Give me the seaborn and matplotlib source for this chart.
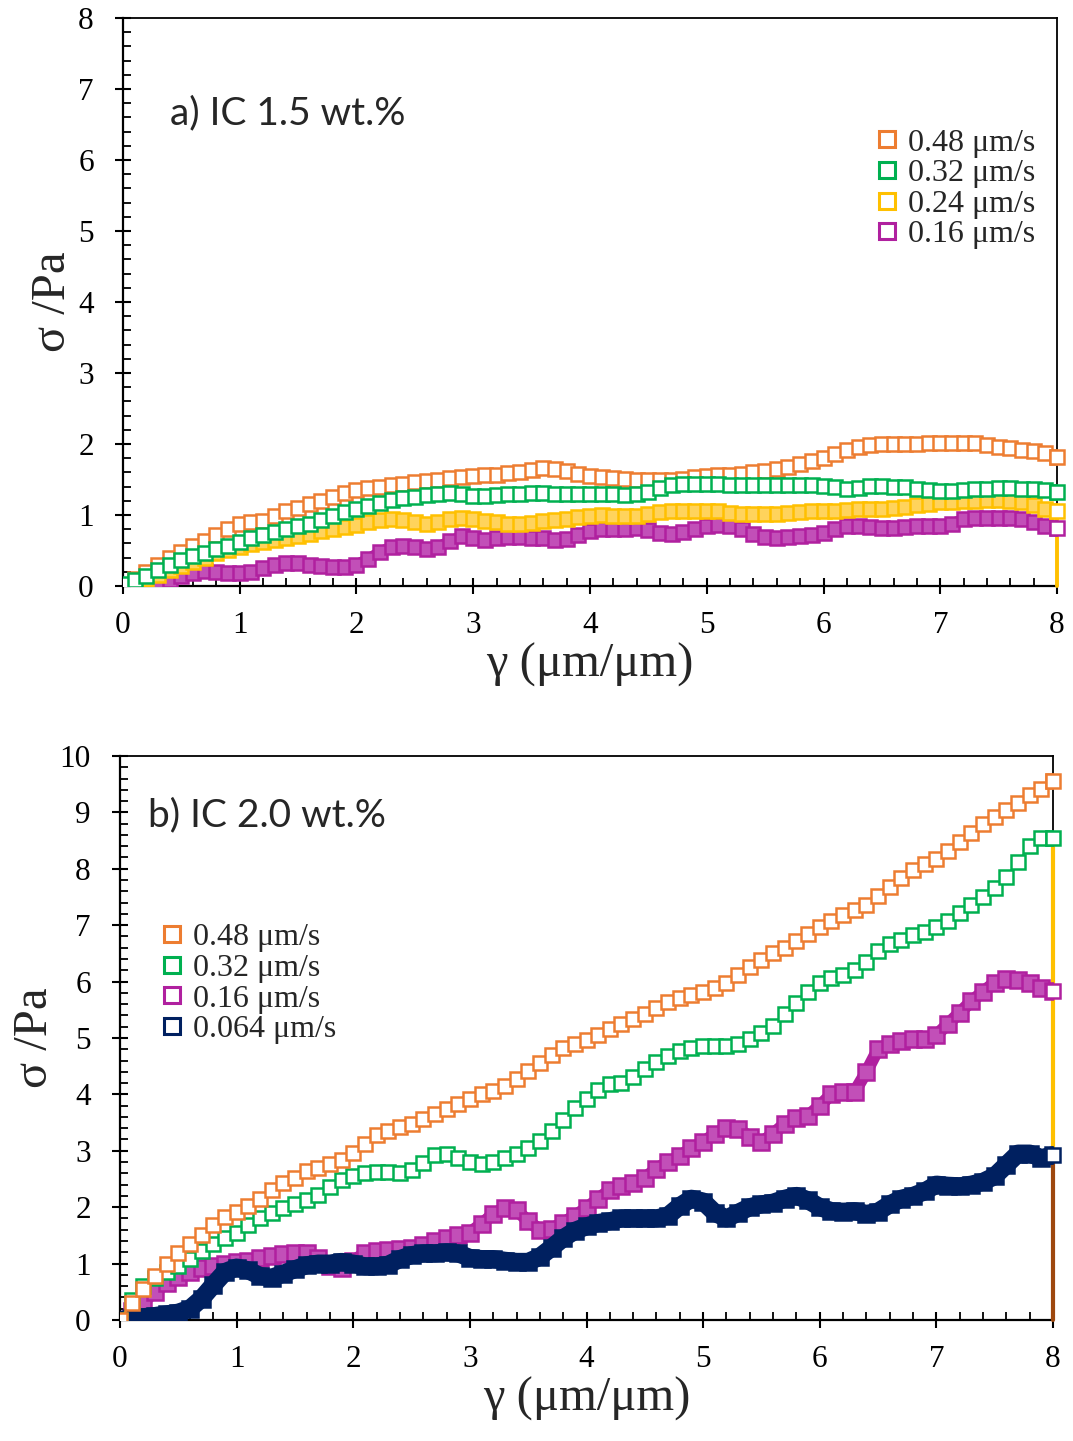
import numpy as np
import pandas as pd
import seaborn as sns
import matplotlib
matplotlib.use("Agg")
import matplotlib.pyplot as plt
from matplotlib.lines import Line2D
from matplotlib.ticker import MultipleLocator

# strain grid (μm/μm), sampled every 0.1
gamma = np.round(np.arange(0, 81) * 0.1, 1)

# ---- panel a) IC 1.5 wt.% : stress (Pa) per shear speed ----
a_048 = [0.00, 0.10, 0.20, 0.30, 0.40, 0.48, 0.56, 0.64, 0.72, 0.80,
         0.87, 0.90, 0.92, 0.98, 1.05, 1.10, 1.15, 1.20, 1.26, 1.31,
         1.35, 1.38, 1.40, 1.42, 1.44, 1.46, 1.48, 1.50, 1.52, 1.54,
         1.55, 1.56, 1.57, 1.59, 1.61, 1.63, 1.66, 1.65, 1.62, 1.58,
         1.55, 1.53, 1.52, 1.51, 1.50, 1.50, 1.50, 1.50, 1.51, 1.53,
         1.55, 1.56, 1.57, 1.58, 1.60, 1.62, 1.65, 1.68, 1.72, 1.76,
         1.80, 1.86, 1.92, 1.96, 1.98, 2.00, 2.00, 2.00, 2.00, 2.01,
         2.02, 2.02, 2.02, 2.01, 1.99, 1.96, 1.94, 1.92, 1.90, 1.87,
         1.82]
a_032 = [0.03, 0.08, 0.14, 0.22, 0.30, 0.37, 0.42, 0.47, 0.52, 0.57,
         0.62, 0.67, 0.72, 0.76, 0.80, 0.84, 0.88, 0.93, 0.98, 1.04,
         1.09, 1.13, 1.17, 1.21, 1.24, 1.26, 1.28, 1.30, 1.31, 1.29,
         1.27, 1.27, 1.28, 1.29, 1.30, 1.31, 1.31, 1.30, 1.30, 1.30,
         1.30, 1.30, 1.29, 1.28, 1.29, 1.33, 1.38, 1.42, 1.44, 1.44,
         1.44, 1.44, 1.43, 1.43, 1.43, 1.42, 1.42, 1.42, 1.42, 1.42,
         1.41, 1.39, 1.37, 1.38, 1.41, 1.41, 1.40, 1.39, 1.37, 1.35,
         1.34, 1.34, 1.35, 1.36, 1.37, 1.38, 1.38, 1.37, 1.36, 1.35,
         1.33]
a_024 = [0.00, 0.04, 0.10, 0.16, 0.22, 0.28, 0.34, 0.40, 0.46, 0.51,
         0.55, 0.59, 0.62, 0.65, 0.68, 0.71, 0.74, 0.77, 0.80, 0.83,
         0.86, 0.90, 0.93, 0.94, 0.93, 0.90, 0.88, 0.90, 0.95, 0.96,
         0.94, 0.92, 0.90, 0.88, 0.88, 0.89, 0.91, 0.93, 0.95, 0.97,
         0.98, 1.00, 0.99, 0.98, 0.99, 1.02, 1.04, 1.05, 1.05, 1.05,
         1.06, 1.05, 1.03, 1.02, 1.02, 1.02, 1.02, 1.03, 1.04, 1.05,
         1.06, 1.06, 1.07, 1.08, 1.08, 1.08, 1.10, 1.12, 1.14, 1.16,
         1.18, 1.19, 1.20, 1.20, 1.21, 1.21, 1.20, 1.18, 1.14, 1.09,
         1.05]
a_016 = [0.00, 0.00, 0.01, 0.03, 0.08, 0.14, 0.19, 0.21, 0.20, 0.18,
         0.18, 0.20, 0.25, 0.30, 0.32, 0.32, 0.30, 0.28, 0.27, 0.27,
         0.30, 0.38, 0.48, 0.55, 0.57, 0.55, 0.52, 0.55, 0.63, 0.70,
         0.68, 0.65, 0.67, 0.69, 0.69, 0.68, 0.67, 0.65, 0.66, 0.72,
         0.78, 0.81, 0.81, 0.81, 0.82, 0.79, 0.75, 0.74, 0.76, 0.80,
         0.84, 0.86, 0.85, 0.80, 0.73, 0.69, 0.68, 0.69, 0.70, 0.72,
         0.75, 0.80, 0.85, 0.84, 0.83, 0.82, 0.82, 0.83, 0.84, 0.84,
         0.84, 0.88, 0.94, 0.96, 0.96, 0.96, 0.96, 0.95, 0.90, 0.85,
         0.82]

# ---- panel b) IC 2.0 wt.% ----
b_048 = [0.00, 0.30, 0.55, 0.78, 1.00, 1.18, 1.35, 1.50, 1.68, 1.82,
         1.92, 2.02, 2.14, 2.30, 2.42, 2.52, 2.64, 2.70, 2.76, 2.84,
         2.96, 3.12, 3.28, 3.35, 3.42, 3.48, 3.56, 3.65, 3.74, 3.83,
         3.92, 4.00, 4.06, 4.15, 4.28, 4.42, 4.56, 4.70, 4.82, 4.90,
         4.96, 5.05, 5.15, 5.25, 5.34, 5.43, 5.53, 5.63, 5.70, 5.76,
         5.82, 5.88, 5.98, 6.12, 6.26, 6.38, 6.50, 6.60, 6.72, 6.84,
         6.96, 7.08, 7.18, 7.26, 7.36, 7.52, 7.68, 7.84, 7.98, 8.08,
         8.18, 8.32, 8.48, 8.64, 8.80, 8.92, 9.04, 9.16, 9.30, 9.42,
         9.55]
b_032 = [0.00, 0.35, 0.60, 0.75, 0.85, 0.95, 1.08, 1.22, 1.35, 1.45,
         1.55, 1.68, 1.80, 1.90, 1.98, 2.05, 2.12, 2.22, 2.35, 2.48,
         2.55, 2.60, 2.63, 2.63, 2.60, 2.65, 2.78, 2.92, 2.95, 2.88,
         2.80, 2.77, 2.80, 2.87, 2.95, 3.05, 3.18, 3.35, 3.55, 3.75,
         3.92, 4.08, 4.18, 4.20, 4.30, 4.45, 4.58, 4.68, 4.76, 4.82,
         4.86, 4.86, 4.86, 4.90, 4.98, 5.08, 5.22, 5.42, 5.62, 5.82,
         5.98, 6.06, 6.12, 6.20, 6.35, 6.55, 6.66, 6.74, 6.82, 6.88,
         6.96, 7.08, 7.22, 7.36, 7.50, 7.66, 7.86, 8.12, 8.40, 8.55,
         8.55]
b_016 = [0.00, 0.15, 0.32, 0.50, 0.65, 0.77, 0.85, 0.92, 0.96, 1.00,
         1.02, 1.05, 1.10, 1.14, 1.17, 1.18, 1.18, 1.10, 0.95, 0.92,
         1.05, 1.18, 1.22, 1.24, 1.25, 1.28, 1.33, 1.40, 1.46, 1.50,
         1.55, 1.70, 1.88, 1.98, 1.95, 1.75, 1.60, 1.62, 1.72, 1.85,
         1.98, 2.15, 2.30, 2.38, 2.42, 2.52, 2.68, 2.80, 2.90, 3.05,
         3.15, 3.30, 3.40, 3.38, 3.25, 3.15, 3.30, 3.48, 3.58, 3.62,
         3.80, 4.00, 4.05, 4.05, 4.40, 4.80, 4.90, 4.95, 4.98, 4.99,
         5.05, 5.25, 5.45, 5.65, 5.82, 5.98, 6.05, 6.02, 5.98, 5.88,
         5.84]
b_0064 = [0.00, 0.03, 0.05, 0.07, 0.10, 0.13, 0.20, 0.38, 0.62, 0.85,
          0.93, 0.88, 0.78, 0.75, 0.82, 0.90, 0.97, 1.00, 1.00, 1.03,
          1.00, 0.95, 0.95, 0.98, 1.08, 1.15, 1.18, 1.18, 1.20, 1.18,
          1.10, 1.08, 1.08, 1.05, 1.03, 1.03, 1.12, 1.28, 1.45, 1.58,
          1.66, 1.72, 1.75, 1.80, 1.80, 1.80, 1.80, 1.85, 2.02, 2.15,
          2.10, 1.90, 1.80, 1.90, 2.00, 2.05, 2.08, 2.15, 2.20, 2.12,
          2.00, 1.93, 1.92, 1.93, 1.88, 1.92, 2.05, 2.15, 2.20, 2.28,
          2.40, 2.38, 2.37, 2.40, 2.45, 2.55, 2.75, 2.95, 2.95, 2.87,
          2.92]

labels_a = ["0.48 μm/s", "0.32 μm/s", "0.24 μm/s", "0.16 μm/s"]
labels_b = ["0.48 μm/s", "0.32 μm/s", "0.16 μm/s", "0.064 μm/s"]

ORANGE = "#ED7D31"
GREEN = "#00B050"
YELLOW = "#FFC000"
PURPLE = "#B0209F"
NAVY = "#002060"
BROWN = "#9E480E"
SERIF = ["Liberation Serif", "DejaVu Serif"]

sns.set_theme(style="ticks")
plt.rcParams["font.family"] = SERIF
plt.rcParams["axes.edgecolor"] = "black"

fig = plt.figure(figsize=(10.73, 14.41), dpi=100)
ax_a = fig.add_axes([0.1146, 0.5933, 0.8705, 0.3942])
ax_b = fig.add_axes([0.1118, 0.0840, 0.8696, 0.3914])


def draw_series(ax, y, color, face, ms, lw, z):
    df = pd.DataFrame({"gamma": gamma, "sigma": y})
    sns.lineplot(data=df, x="gamma", y="sigma", ax=ax, color=color,
                 marker="s", markersize=ms, markerfacecolor=face,
                 markeredgecolor=color, markeredgewidth=1.8,
                 linewidth=lw, estimator=None, sort=False, legend=False,
                 zorder=z)
    end = df.iloc[[-1]]
    sns.lineplot(data=end, x="gamma", y="sigma", ax=ax, color=color,
                 marker="s", markersize=10.5, markerfacecolor="white",
                 markeredgecolor=color, markeredgewidth=1.8,
                 linewidth=0, estimator=None, legend=False, zorder=z + 0.5,
                 clip_on=False)


def style_axes(ax, ymax, title, tpos):
    ax.set_xlim(0, 8)
    ax.set_ylim(0, ymax)
    ax.xaxis.set_major_locator(MultipleLocator(1))
    ax.xaxis.set_minor_locator(MultipleLocator(0.2))
    ax.yaxis.set_major_locator(MultipleLocator(1))
    ax.yaxis.set_minor_locator(MultipleLocator(0.2))
    ax.tick_params(which="major", direction="inout", length=12, width=1.5,
                   labelsize=22.5, pad=12, color="black", labelcolor="black",
                   top=False, right=False)
    ax.tick_params(axis="y", which="major", pad=15)
    ax.tick_params(which="minor", direction="in", length=5.5, width=1.3,
                   color="black", top=False, right=False)
    for lab in ax.get_xticklabels() + ax.get_yticklabels():
        lab.set_fontfamily(SERIF)
    for side in ["left", "bottom"]:
        ax.spines[side].set_linewidth(1.6)
    for side in ["top", "right"]:
        ax.spines[side].set_linewidth(1.3)
    ax.set_xlabel("γ (μm/μm)", fontsize=35, labelpad=2, family=SERIF)
    ax.set_ylabel("σ /Pa", fontsize=35, labelpad=2, family=SERIF)
    ax.text(tpos[0], tpos[1], title, transform=ax.transAxes,
            family="Lato", fontsize=28, va="center", ha="left")
    ax.set_facecolor("white")


# panel a
draw_series(ax_a, a_048, ORANGE, "white", 10.5, 1.5, 3)
draw_series(ax_a, a_016, PURPLE, "#c24fb8", 10.5, 8, 4)
draw_series(ax_a, a_024, YELLOW, "#ffd35c", 10, 5, 5)
draw_series(ax_a, a_032, GREEN, "white", 10, 1.5, 6)
ax_a.plot([gamma[-1], gamma[-1]], [a_024[-1], 0], color=YELLOW, lw=2.8,
          zorder=2.8, clip_on=False)
style_axes(ax_a, 8, "a) IC 1.5 wt.%", (0.05, 0.833))

# panel b
draw_series(ax_b, b_016, PURPLE, "#c24fb8", 11, 9, 3)
draw_series(ax_b, b_0064, NAVY, NAVY, 12, 13, 4)
draw_series(ax_b, b_032, GREEN, "white", 10.5, 1.5, 5)
draw_series(ax_b, b_048, ORANGE, "white", 10.5, 1.5, 6)
ax_b.plot([gamma[-1], gamma[-1]], [b_032[-1], b_0064[-1]], color=YELLOW,
          lw=3, zorder=2.8, clip_on=False)
ax_b.plot([gamma[-1], gamma[-1]], [b_0064[-1], 0], color=BROWN,
          lw=3, zorder=2.8, clip_on=False)
style_axes(ax_b, 10, "b) IC 2.0 wt.%", (0.03, 0.894))


def legend_handles(colors):
    return [Line2D([], [], linestyle="none", marker="s", markersize=12,
                   markerfacecolor="white", markeredgecolor=c,
                   markeredgewidth=2.2) for c in colors]


leg_kw = dict(loc="upper left", frameon=False, borderpad=0, borderaxespad=0,
              handlelength=0.7, handletextpad=0.3, labelspacing=0.04,
              prop={"family": SERIF, "size": 23})
ax_a.legend(legend_handles([ORANGE, GREEN, YELLOW, PURPLE]), labels_a,
            bbox_to_anchor=(0.806, 0.806), **leg_kw)
ax_b.legend(legend_handles([ORANGE, GREEN, PURPLE, NAVY]), labels_b,
            bbox_to_anchor=(0.044, 0.704), **leg_kw)

fig.savefig("out.png", dpi=100, facecolor="white")
